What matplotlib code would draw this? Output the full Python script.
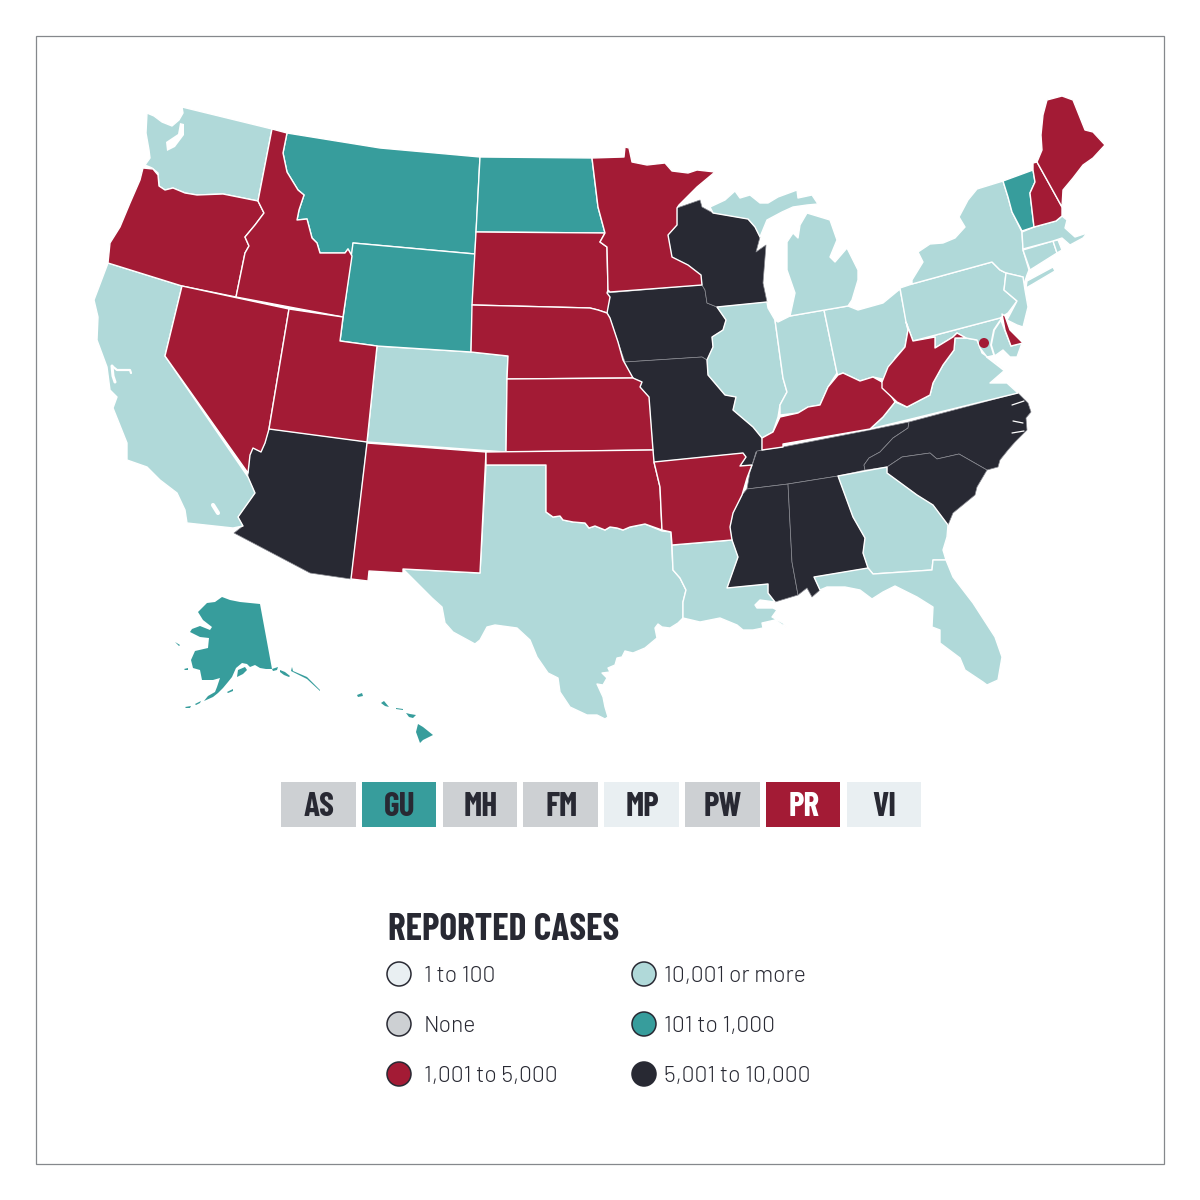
import matplotlib
matplotlib.use("Agg")
import matplotlib.pyplot as plt
from matplotlib import font_manager as fm
from matplotlib.patches import Polygon, Rectangle, Circle

LOW, NONE, MID, HIGH, SMALL, DARK = "1 to 100", "None", "1,001 to 5,000", "10,001 or more", "101 to 1,000", "5,001 to 10,000"
COLORS = {LOW: "#E9EFF2", NONE: "#CDD0D3", MID: "#A31B35", HIGH: "#B0D9D9", SMALL: "#379D9C", DARK: "#282933"}
LEGEND_LEFT = [LOW, NONE, MID]
LEGEND_RIGHT = [HIGH, SMALL, DARK]
TERRITORIES = ["AS", "GU", "MH", "FM", "MP", "PW", "PR", "VI"]
TERRITORY_CATS = [NONE, SMALL, NONE, NONE, LOW, NONE, MID, LOW]

ISLANDS = ["AK", "AK_KEN", "AK_PAN1", "AK_PAN2", "AK_PAN3", "AK_KOD", "AK_AL1", "AK_AL2", "AK_WI", "AK_LAW", "HI_B", "HI_M", "HI_O", "HI_K", "HI_L"]
CATEGORY_STATES = {
    HIGH: ["WA", "CA", "CO", "TX", "LA", "IL", "IN", "OH", "MI", "MI_U", "GA", "FL", "VA", "MD", "PA", "NY", "LI", "NJ", "CT", "RI", "MA"],
    SMALL: ["MT", "WY", "ND", "VT"] + ISLANDS,
    MID: ["OR", "ID", "NV", "UT", "NM", "SD", "NE", "KS", "OK", "AR", "MN", "KY", "WV", "DE", "NH", "ME"],
    DARK: ["AZ", "IA", "WI", "MO", "TN", "NC", "SC", "MS", "AL"],
}

# State outlines, in picture pixels
WA = [(182,107),(272,129),(258,201),(223,194),(197,195),(185,193),(173,188),(165,190),(159,186),(158,173),(152,168),(145,165),(150,158),(149,150),(146,133),(147,113),(154,116),(162,122),(172,126),(179,120),(183,113)]
OR = [(143,168),(153,169),(158,175),(159,186),(165,190),(173,188),(185,193),(197,195),(223,194),(258,201),(264,213),(255,225),(245,237),(249,246),(245,253),(236,297),(182,286),(108,263),(110,243),(120,227),(130,203),(140,180)]
ID = [(272,129),(287,133),(283,153),(287,172),(298,190),(304,195),(299,210),(297,220),(307,219),(312,238),(317,243),(320,253),(345,253),(348,249),(352,256),(343,317),(236,297),(245,253),(249,246),(245,237),(255,225),(264,213),(258,201)]
MT = [(287,133),(380,148),(480,157),(475,254),(353,243),(352,256),(348,249),(345,253),(320,253),(317,243),(312,238),(307,219),(297,220),(299,210),(304,195),(298,190),(287,172),(283,153)]
WY = [(353,243),(475,254),(471,352),(377,346),(340,341)]
NV = [(182,286),(289,309),(269,429),(265,443),(261,452),(253,448),(250,455),(248,473),(165,356)]
UT = [(289,309),(343,317),(340,341),(377,346),(367,442),(269,429)]
CO = [(377,346),(471,352),(508,356),(507,379),(506,452),(367,442)]
KS = [(507,379),(633,378),(642,382),(640,387),(649,397),(653,450),(506,452)]
NE = [(472,305),(590,308),(598,310),(607,313),(610,318),(618,342),(623,360),(633,378),(507,379),(508,356),(471,352)]
SD = [(476,232),(605,233),(600,242),(607,247),(608,290),(607,293),(610,297),(607,313),(598,310),(590,308),(472,305)]
ND = [(480,157),(592,158),(598,207),(605,233),(476,232)]
MN = [(592,158),(624,157),(625,147),(629,148),(632,162),(647,165),(665,163),(672,171),(688,173),(697,170),(715,172),(697,187),(679,205),(677,208),(677,225),(668,235),(672,257),(688,265),(701,275),(702,285),(610,292),(608,290),(607,247),(600,242),(605,233),(598,207)]
IA = [(607,293),(702,285),(705,290),(707,303),(717,307),(726,320),(723,330),(712,337),(713,347),(707,360),(702,357),(625,362),(618,342),(610,318),(607,312),(610,297)]
WI = [(677,208),(700,200),(702,207),(713,213),(748,219),(755,227),(760,237),(756,252),(766,245),(763,283),(767,302),(717,307),(707,303),(705,290),(702,285),(701,275),(688,265),(672,257),(668,235),(677,225)]
IL = [(717,307),(767,302),(768,308),(775,320),(783,378),(787,392),(780,405),(778,417),(773,432),(762,438),(753,427),(733,410),(736,397),(725,395),(708,375),(707,360),(713,347),(712,337),(723,330),(726,320)]
IN = [(778,322),(790,316),(824,310),(837,373),(828,387),(820,405),(808,407),(798,413),(780,415),(780,405),(787,392),(783,378),(775,320)]
OH = [(824,310),(848,306),(858,310),(883,303),(900,289),(908,330),(905,347),(895,358),(887,380),(873,377),(860,381),(843,373),(838,375),(837,373)]
KY = [(838,375),(843,373),(860,381),(873,377),(882,382),(895,402),(883,417),(870,429),(783,444),(783,447),(762,450),(762,438),(773,432),(780,417),(798,413),(808,407),(820,405),(828,387)]
WV = [(906,322),(913,341),(935,337),(935,348),(953,337),(957,333),(966,338),(955,338),(954,350),(943,365),(933,383),(930,395),(907,407),(897,402),(882,388),(882,382),(888,367),(905,347),(908,330)]
VA = [(870,429),(883,417),(895,402),(907,407),(930,395),(933,383),(943,365),(954,350),(955,338),(966,338),(977,340),(980,347),(982,353),(997,363),(1005,370),(990,383),(1007,383),(1018,393)]
MD = [(913,341),(1000,318),(1011,346),(1022,343),(1017,357),(1010,357),(1003,350),(996,355),(987,357),(980,348),(977,340),(966,338),(957,333),(953,337),(935,348),(935,337)]
DE = [(1002,314),(1005,316),(1010,330),(1023,343),(1011,346),(1005,330)]
PA = [(900,288),(912,284),(992,262),(1000,270),(1006,273),(1004,290),(1017,301),(1008,313),(1000,318),(913,341),(906,322)]
NY = [(912,280),(923,262),(918,252),(930,244),(943,243),(955,238),(965,227),(959,217),(968,200),(977,189),(1003,181),(1008,197),(1012,212),(1022,232),(1023,250),(1029,270),(1027,275),(1023,287),(1023,277),(1006,273),(1000,270),(992,262),(912,284)]
LI = [(1027,281),(1053,267),(1055,271),(1033,284),(1026,288)]
NJ = [(1006,273),(1023,277),(1025,290),(1028,307),(1023,327),(1017,325),(1007,320),(1017,301),(1004,290)]
CT = [(1023,250),(1053,241),(1057,253),(1030,270)]
RI = [(1053,241),(1058,240),(1062,250),(1057,253)]
MA = [(1022,232),(1034,227),(1056,221),(1062,216),(1067,220),(1065,228),(1075,237),(1087,233),(1083,238),(1070,245),(1062,238),(1053,241),(1023,249)]
VT = [(1003,181),(1033,170),(1035,182),(1030,193),(1034,227),(1022,231),(1012,212),(1008,197)]
NH = [(1033,163),(1037,162),(1062,207),(1062,216),(1056,221),(1034,227),(1030,193),(1035,182),(1033,170)]
ME = [(1037,162),(1042,150),(1041,135),(1043,115),(1047,100),(1062,96),(1073,100),(1085,130),(1093,132),(1105,145),(1093,158),(1083,165),(1073,178),(1063,190),(1062,207)]
MI = [(848,306),(790,316),(795,293),(787,270),(787,242),(793,233),(798,238),(800,225),(807,213),(830,220),(837,240),(830,257),(835,262),(847,248),(858,270),(858,280),(852,300)]
MI_U = [(710,207),(725,200),(735,191),(740,198),(750,195),(760,203),(768,203),(778,197),(797,190),(798,198),(812,195),(818,204),(807,205),(793,207),(782,212),(767,220),(760,237),(755,227),(748,219),(713,213)]
MO = [(625,362),(702,357),(707,360),(708,375),(725,395),(736,397),(733,410),(753,427),(762,438),(762,450),(756,452),(752,465),(740,466),(746,457),(743,453),(654,462),(653,450),(649,397),(640,387),(642,382),(633,378),(623,360)]
AR = [(654,462),(743,453),(746,457),(740,466),(752,465),(747,478),(742,495),(733,513),(730,527),(732,540),(672,545),(671,532),(662,530),(660,487)]
TN = [(757,451),(783,447),(870,430),(909,422),(908,428),(893,438),(880,452),(869,458),(864,465),(865,470),(838,476),(788,484),(747,489),(750,472)]
NC = [(909,422),(1018,393),(1028,403),(1031,412),(1026,418),(1027,430),(1015,442),(1008,450),(1000,460),(998,467),(987,470),(959,454),(937,459),(930,453),(902,457),(887,467),(865,470),(864,465),(869,458),(880,452),(893,438),(908,428)]
SC = [(887,467),(902,457),(930,453),(937,459),(959,454),(987,470),(977,487),(975,495),(953,513),(948,525),(933,505),(917,495),(887,473)]
GA = [(838,476),(887,467),(887,473),(917,495),(933,505),(948,525),(947,537),(943,550),(946,560),(933,560),(932,570),(873,574),(868,568),(863,553),(865,538),(853,517)]
AL = [(788,484),(838,476),(853,517),(865,538),(863,553),(868,568),(814,577),(820,590),(812,597),(807,588),(798,595),(792,562)]
MS = [(747,489),(788,484),(792,562),(798,595),(775,602),(768,593),(768,584),(727,588),(738,557),(732,540),(730,527),(733,513),(742,495)]
LA = [(672,545),(732,540),(738,557),(727,588),(768,584),(768,593),(775,602),(760,600),(755,605),(757,608),(773,608),(777,610),(772,617),(783,623),(787,628),(775,620),(762,623),(763,628),(753,630),(743,630),(737,625),(720,618),(700,622),(683,618),(683,602),(686,590),(680,578),(673,570)]
FL = [(814,577),(868,568),(873,574),(932,570),(933,560),(946,560),(953,577),(973,603),(995,637),(1002,657),(998,680),(987,685),(983,682),(965,670),(960,658),(940,643),(940,630),(932,627),(933,607),(917,597),(895,586),(883,592),(872,599),(860,590),(845,587),(827,587),(820,590)]
TX = [(486,465),(546,465),(546,512),(553,517),(560,516),(563,520),(573,522),(585,523),(589,528),(595,526),(605,530),(610,527),(617,528),(623,530),(630,527),(645,524),(662,531),(671,532),(673,570),(680,578),(686,590),(683,602),(683,618),(678,623),(670,628),(662,627),(658,624),(655,628),(657,638),(645,648),(633,653),(625,651),(622,657),(617,658),(615,665),(608,668),(610,672),(602,673),(607,678),(603,685),(597,684),(603,697),(605,707),(608,717),(605,719),(597,715),(587,715),(570,707),(560,692),(558,678),(548,673),(537,657),(530,640),(517,628),(495,625),(487,627),(480,640),(475,644),(453,632),(445,623),(442,607),(432,598),(403,569),(480,573)]
OK = [(486,452),(653,450),(654,462),(660,487),(662,530),(645,524),(630,527),(623,530),(617,528),(610,527),(605,530),(595,526),(589,528),(585,523),(573,522),(563,520),(560,516),(553,517),(546,512),(546,465),(486,465)]
NM = [(367,443),(486,452),(480,573),(403,569),(403,573),(369,571),(368,581),(351,579)]
AZ = [(269,429),(367,442),(351,579),(310,573),(234,533),(243,526),(238,517),(255,493),(248,477),(250,450),(253,448),(261,452),(265,443)]
CA = [(182,286),(108,263),(94,300),(98,317),(97,340),(107,367),(110,390),(117,397),(113,408),(127,443),(127,460),(147,467),(160,480),(177,493),(185,510),(187,523),(233,528),(243,526),(238,517),(255,493),(248,477),(165,356)]
AK = [(260,604),(272,669),(266,669),(260,668),(255,665),(250,667),(247,664),(242,663),(236,668),(232,677),(228,682),(223,688),(218,693),(213,697),(204,701),(208,696),(215,692),(217,687),(220,678),(213,680),(202,680),(200,670),(193,668),(191,660),(195,651),(208,648),(209,638),(200,637),(190,632),(192,629),(200,626),(210,630),(212,627),(203,620),(198,612),(207,603),(215,602),(222,597),(230,600),(240,602)]
AK_KEN = [(237,677),(238,670),(245,667),(247,670),(243,674)]
AK_PAN1 = [(272,669),(278,667),(277,670),(273,671)]
AK_PAN2 = [(280,670),(285,672),(290,676),(289,677),(284,675),(280,672)]
AK_PAN3 = [(292,667),(293,671),(307,677),(320,690),(320,691),(307,679),(291,671)]
AK_KOD = [(227,692),(233,689),(233,691),(228,693)]
AK_AL1 = [(185,707),(191,706),(190,708),(186,708)]
AK_AL2 = [(195,704),(201,701),(200,703),(196,705)]
AK_WI = [(184,669),(188,668),(188,670),(185,670)]
AK_LAW = [(175,642),(180,645),(179,646),(176,643)]
HI_B = [(418,724),(423,727),(433,735),(423,740),(420,743),(416,732)]
HI_M = [(406,713),(410,714),(416,715),(413,718),(409,717)]
HI_O = [(381,703),(384,701),(389,707),(385,706)]
HI_K = [(357,695),(362,693),(363,696),(358,697)]
HI_L = [(396,708),(403,709),(403,710),(396,709)]

# White water details
PUGET = [(180,123),(178,134),(166,142),(167,151),(175,147),(184,135),(184,124)]
SF_BAY = [(112,366),(117,370),(130,370),(131,373)]
SF_BAY2 = [(112,366),(113,376),(115,382)]
SALTON = [(213,505),(218,513)]
CHESAPEAKE = [(1000,321),(994,330),(991,345),(995,358)]
POTOMAC = [(987,357),(1000,367),(1005,371)]
SOUND1 = [(1012,405),(1024,401)]
SOUND2 = [(1013,421),(1023,423)]
SOUND3 = [(1012,433),(1024,431)]
DC_CENTER = (984, 343)

OUTLINES = {k: v for k, v in globals().items() if k.isupper() and isinstance(v, list) and v and isinstance(v[0], tuple)}


def pick_font(names):
    have = {f.name for f in fm.fontManager.ttflist}
    for n in names:
        if n in have:
            return n
    return "DejaVu Sans"


HEAD_FONT = pick_font(["Barlow Condensed", "Roboto Condensed", "Liberation Sans Narrow", "Roboto"])
BODY_FONT = pick_font(["Barlow", "Lato", "Roboto"])

fig = plt.figure(figsize=(12, 12), dpi=100)
ax = fig.add_axes([0, 0, 1, 1])
ax.set_xlim(0, 1200)
ax.set_ylim(1200, 0)
ax.axis("off")

ax.add_patch(Rectangle((36, 36), 1128, 1128, fill=False, ec="#85888C", lw=0.9))

for cat in [DARK, HIGH, SMALL, MID]:
    for st in CATEGORY_STATES[cat]:
        edge = "#8A8B92" if cat == DARK else "white"
        lw = 0.5 if cat == DARK else (0 if st in ISLANDS else 1.0)
        ax.add_patch(Polygon(OUTLINES[st], closed=True, fc=COLORS[cat], ec=edge if lw else "none", lw=lw, joinstyle="round", zorder=2 if cat == DARK else 3))

ax.add_patch(Polygon(PUGET, closed=True, fc="white", ec="none", zorder=4))
for line, w in [(SF_BAY, 1.6), (SF_BAY2, 2.2), (SALTON, 3.0), (CHESAPEAKE, 1.4), (POTOMAC, 1.4), (SOUND1, 0.9), (SOUND2, 0.9), (SOUND3, 0.9)]:
    ax.plot(*zip(*line), color="white", lw=w, solid_capstyle="round", zorder=4)
ax.add_patch(Circle(DC_CENTER, 5, fc=COLORS[MID], ec="none", zorder=5))

# territories
for i, (t, c) in enumerate(zip(TERRITORIES, TERRITORY_CATS)):
    x = 281 + i * 80.8
    ax.add_patch(Rectangle((x, 782), 74.5, 45, fc=COLORS[c], ec="none"))
    ax.text(x + 38, 807, t, ha="center", va="center", fontsize=24, fontweight="bold",
            family=HEAD_FONT, color="white" if c == MID else COLORS[DARK])

# legend
ax.text(388, 930, "REPORTED CASES", ha="left", va="center", fontsize=27, fontweight="bold",
        family=HEAD_FONT, color=COLORS[DARK])
for cx, tx, cats in [(399, 424, LEGEND_LEFT), (644, 664, LEGEND_RIGHT)]:
    for j, c in enumerate(cats):
        cy = 974 + j * 50
        ax.add_patch(Circle((cx, cy), 12, fc=COLORS[c], ec=COLORS[DARK], lw=1.1))
        ax.text(tx, cy + 2.5, c, ha="left", va="center", fontsize=16.5, family=BODY_FONT,
                fontweight=300, color=COLORS[DARK])

fig.savefig("out.png", dpi=100, facecolor="white")
